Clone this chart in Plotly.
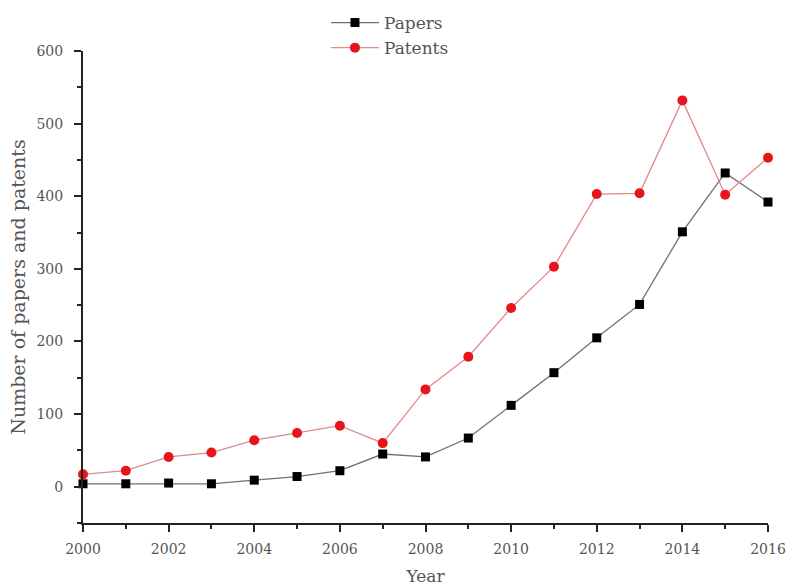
import plotly.graph_objects as go

years = list(range(2000, 2017))
papers = [4, 4, 5, 4, 9, 14, 22, 45, 41, 67, 112, 157, 205, 251, 351, 432, 392]
patents = [17, 22, 41, 47, 64, 74, 84, 60, 134, 179, 246, 303, 403, 404, 532, 402, 453]

FONT = "DejaVu Serif"
TXT = "#555555"
AX = "#222222"

fig = go.Figure()
fig.add_trace(go.Scatter(
    x=years, y=papers, name="Papers", mode="lines+markers",
    line=dict(color="#707070", width=1.3),
    marker=dict(symbol="square", size=9, color="#000000"),
    cliponaxis=False,
))
fig.add_trace(go.Scatter(
    x=years, y=patents, name="Patents", mode="lines+markers",
    line=dict(color="#e08a8a", width=1.3),
    marker=dict(symbol="circle", size=10, color="#e8141c"),
    cliponaxis=False,
))

fig.update_layout(
    width=789, height=586,
    margin=dict(l=83, r=21, t=51, b=63, autoexpand=False),
    paper_bgcolor="white", plot_bgcolor="white",
    font=dict(family=FONT, color=TXT, size=14),
    showlegend=True,
    legend=dict(x=0.3547, y=0.9915, yref="container", xanchor="left", yanchor="top",
                font=dict(size=17, color=TXT, family=FONT),
                bgcolor="rgba(0,0,0,0)", itemwidth=48),
    xaxis=dict(
        range=[2000, 2016], tickmode="array",
        tickvals=list(range(2000, 2017, 2)),
        ticktext=[str(v) for v in range(2000, 2017, 2)],
        showgrid=False, zeroline=False, automargin=False,
        showline=True, linecolor=AX, linewidth=2,
        ticks="outside", ticklen=7, tickwidth=2, tickcolor=AX,
        ticklabelstandoff=5,
        minor=dict(tickvals=list(range(2001, 2016, 2)), ticks="outside",
                   ticklen=4, tickwidth=2, tickcolor=AX),
        tickfont=dict(size=14, color=TXT, family=FONT),
        title=dict(text="Year", font=dict(size=17, color=TXT, family=FONT), standoff=14),
    ),
    yaxis=dict(
        range=[-50, 600], tickmode="array",
        tickvals=[0, 100, 200, 300, 400, 500, 600],
        showgrid=False, zeroline=False, automargin=False,
        showline=True, linecolor=AX, linewidth=2,
        ticks="outside", ticklen=7, tickwidth=2, tickcolor=AX,
        ticklabelstandoff=8,
        minor=dict(tickvals=[-50, 50, 150, 250, 350, 450, 550], ticks="outside",
                   ticklen=4, tickwidth=2, tickcolor=AX),
        tickfont=dict(size=14, color=TXT, family=FONT),
        title=dict(text="Number of papers and patents",
                   font=dict(size=19, color=TXT, family=FONT), standoff=6),
    ),
)

fig.write_html(
    "out.html",
    config={"displayModeBar": False},
    post_script="document.body.style.margin='0px';document.body.style.overflow='hidden';",
)
